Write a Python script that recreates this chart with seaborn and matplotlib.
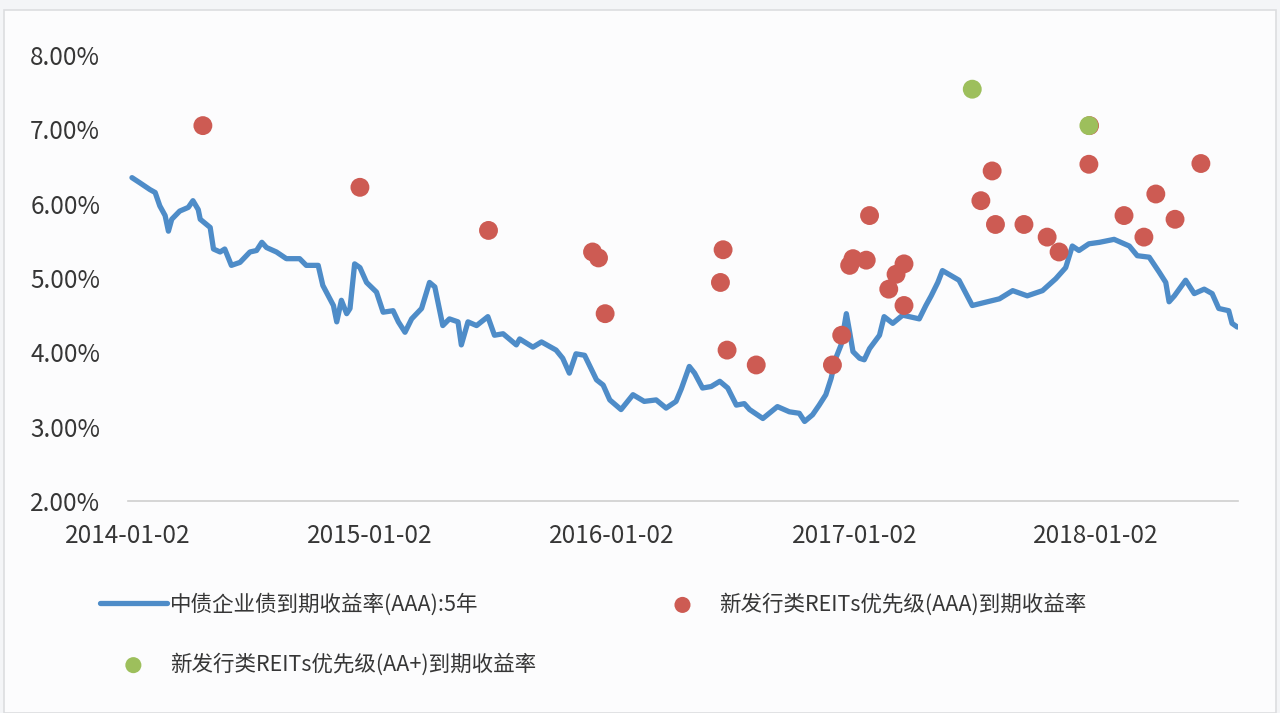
import numpy as np
import pandas as pd
import matplotlib
matplotlib.use("Agg")
import matplotlib.pyplot as plt
import matplotlib.patches as mpatches
import seaborn as sns

# 中债企业债到期收益率(AAA):5年 (读图估计的折点)
bond_dates = [
    "2014-01-08", "2014-01-20", "2014-02-04", "2014-02-12", "2014-02-19", "2014-02-27",
    "2014-03-04", "2014-03-09", "2014-03-21", "2014-04-03", "2014-04-10", "2014-04-18",
    "2014-04-21", "2014-05-06", "2014-05-11", "2014-05-21", "2014-05-28", "2014-06-07",
    "2014-06-20", "2014-07-05", "2014-07-15", "2014-07-23", "2014-07-30", "2014-08-14",
    "2014-08-29", "2014-09-18", "2014-09-28", "2014-10-16", "2014-10-23", "2014-11-08",
    "2014-11-13", "2014-11-20", "2014-11-28", "2014-12-03", "2014-12-10", "2014-12-18",
    "2014-12-28", "2015-01-12", "2015-01-22", "2015-02-06", "2015-02-14", "2015-02-24",
    "2015-03-06", "2015-03-21", "2015-04-02", "2015-04-10", "2015-04-22", "2015-05-02",
    "2015-05-15", "2015-05-20", "2015-05-30", "2015-06-12", "2015-06-29", "2015-07-09",
    "2015-07-22", "2015-08-11", "2015-08-16", "2015-09-05", "2015-09-18", "2015-10-10",
    "2015-10-20", "2015-10-30", "2015-11-09", "2015-11-22", "2015-12-10", "2015-12-20",
    "2015-12-30", "2016-01-16", "2016-02-03", "2016-02-20", "2016-03-09", "2016-03-24",
    "2016-04-08", "2016-04-16", "2016-04-28", "2016-05-06", "2016-05-18", "2016-05-31",
    "2016-06-13", "2016-06-25", "2016-07-08", "2016-07-20", "2016-07-28", "2016-08-17",
    "2016-09-08", "2016-09-26", "2016-10-11", "2016-10-19", "2016-10-31", "2016-11-10",
    "2016-11-20", "2016-11-28", "2016-12-05", "2016-12-13", "2016-12-21", "2016-12-26",
    "2016-12-31", "2017-01-10", "2017-01-17", "2017-01-25", "2017-02-09", "2017-02-16",
    "2017-03-01", "2017-03-16", "2017-03-26", "2017-04-10", "2017-04-20", "2017-04-28",
    "2017-05-08", "2017-05-15", "2017-06-09", "2017-06-29", "2017-07-22", "2017-08-09",
    "2017-08-29", "2017-09-20", "2017-10-13", "2017-11-02", "2017-11-17", "2017-11-27",
    "2017-12-07", "2017-12-22", "2018-01-07", "2018-01-29", "2018-02-21", "2018-03-05",
    "2018-03-23", "2018-04-07", "2018-04-17", "2018-04-22", "2018-04-30", "2018-05-17",
    "2018-05-30", "2018-06-14", "2018-06-26", "2018-07-06", "2018-07-21", "2018-07-26",
    "2018-08-03",
]
bond_yield = [
    6.35, 6.28, 6.19, 6.15, 5.97, 5.84,
    5.63, 5.79, 5.90, 5.95, 6.04, 5.92,
    5.79, 5.68, 5.39, 5.35, 5.39, 5.17,
    5.21, 5.35, 5.37, 5.48, 5.41, 5.35,
    5.26, 5.26, 5.17, 5.17, 4.90, 4.63,
    4.41, 4.70, 4.52, 4.59, 5.19, 5.14,
    4.94, 4.81, 4.54, 4.56, 4.41, 4.27,
    4.45, 4.59, 4.94, 4.88, 4.36, 4.45,
    4.41, 4.10, 4.41, 4.36, 4.48, 4.23,
    4.25, 4.10, 4.18, 4.07, 4.14, 4.03,
    3.92, 3.72, 3.98, 3.96, 3.63, 3.56,
    3.36, 3.23, 3.43, 3.34, 3.36, 3.25,
    3.34, 3.51, 3.81, 3.72, 3.52, 3.54,
    3.61, 3.52, 3.29, 3.31, 3.23, 3.11,
    3.27, 3.20, 3.18, 3.07, 3.16, 3.29,
    3.43, 3.65, 3.92, 4.10, 4.52, 4.27,
    4.01, 3.92, 3.90, 4.05, 4.23, 4.48,
    4.39, 4.50, 4.48, 4.45, 4.63, 4.76,
    4.94, 5.10, 4.97, 4.63, 4.68, 4.72,
    4.83, 4.76, 4.83, 4.99, 5.14, 5.43,
    5.37, 5.46, 5.48, 5.52, 5.43, 5.30,
    5.28, 5.08, 4.94, 4.68, 4.76, 4.97,
    4.79, 4.85, 4.79, 4.59, 4.56, 4.39,
    4.34,
]

# 新发行类REITs优先级(AAA)到期收益率
aaa_dates = [
    "2014-04-25", "2014-12-18", "2015-06-30", "2015-12-04", "2015-12-13", "2015-12-23",
    "2016-06-18", "2016-06-14", "2016-06-24", "2016-08-07", "2016-11-30", "2016-12-14",
    "2016-12-26", "2016-12-31", "2017-01-20", "2017-01-25", "2017-02-23", "2017-03-06",
    "2017-03-18", "2017-03-18", "2017-07-12", "2017-07-29", "2017-08-03", "2017-09-15",
    "2017-10-20", "2017-11-07", "2017-12-22", "2017-12-23", "2018-02-13", "2018-03-15",
    "2018-04-02", "2018-05-01", "2018-06-09",
]
aaa_yield = [
    7.05, 6.22, 5.64, 5.35, 5.27, 4.52,
    5.38, 4.94, 4.03, 3.83, 3.83, 4.23,
    5.17, 5.26, 5.24, 5.84, 4.85, 5.05,
    5.19, 4.63, 6.04, 6.44, 5.72, 5.72,
    5.55, 5.35, 6.53, 7.05, 5.84, 5.55,
    6.13, 5.79, 6.54,
]

# 新发行类REITs优先级(AA+)到期收益率
aa_dates = ["2017-06-29", "2017-12-22"]
aa_yield = [7.54, 7.05]

tick_dates = ["2014-01-02", "2015-01-02", "2016-01-02", "2017-01-02", "2018-01-02"]
y_ticks = [2, 3, 4, 5, 6, 7, 8]

label_bond = "中债企业债到期收益率(AAA):5年"
label_aaa = "新发行类REITs优先级(AAA)到期收益率"
label_aa = "新发行类REITs优先级(AA+)到期收益率"

blue = "#4e8cc8"
red = "#cd5b53"
green = "#9dbf5c"
text_col = "#363636"

sns.set_style("white")
plt.rcParams["font.family"] = ["Noto Sans CJK SC", "DejaVu Sans"]

df_bond = pd.DataFrame({"date": pd.to_datetime(bond_dates), "y": bond_yield})
df_aaa = pd.DataFrame({"date": pd.to_datetime(aaa_dates), "y": aaa_yield})
df_aa = pd.DataFrame({"date": pd.to_datetime(aa_dates), "y": aa_yield})

fig = plt.figure(figsize=(12.8, 7.13), dpi=100)
fig.patch.set_facecolor("#f4f5f7")
# 外框
fig.patches.append(mpatches.Rectangle((4 / 1280, 0), 1 - 8 / 1280, 1 - 10 / 713,
                                      transform=fig.transFigure, facecolor="#fcfcfd",
                                      edgecolor="#dcdde0", linewidth=1.2, zorder=-1))

ax = fig.add_axes([128 / 1280, 1 - 501 / 713, (1238 - 128) / 1280, (501 - 55) / 713])
ax.set_facecolor("none")

sns.lineplot(data=df_bond, x="date", y="y", ax=ax, color=blue, linewidth=3.8,
             label=label_bond, zorder=2)
sns.scatterplot(data=df_aaa, x="date", y="y", ax=ax, color=red, s=185,
                edgecolor="none", label=label_aaa, zorder=3)
sns.scatterplot(data=df_aa, x="date", y="y", ax=ax, color=green, s=185,
                edgecolor="none", label=label_aa, zorder=4)

ax.set_xlim(pd.Timestamp("2014-01-02"), pd.Timestamp("2018-08-04"))
ax.set_ylim(2, 8)
ax.set_xticks(pd.to_datetime(tick_dates))
ax.set_xticklabels(tick_dates)
ax.set_yticks(y_ticks)
ax.set_yticklabels([f"{v:.2f}%" for v in y_ticks])
ax.set_xlabel("")
ax.set_ylabel("")

for side in ["top", "right", "left"]:
    ax.spines[side].set_visible(False)
ax.spines["bottom"].set_color("#cfcfcf")
ax.spines["bottom"].set_linewidth(1.2)
ax.tick_params(axis="x", length=6, width=1.2, color="#cfcfcf", pad=10,
               labelsize=17.5, labelcolor=text_col)
ax.tick_params(axis="y", length=0, pad=20, labelsize=17.5, labelcolor=text_col)

handles, labels = ax.get_legend_handles_labels()
order = [labels.index(label_bond), labels.index(label_aa), labels.index(label_aaa)]
ax.legend([handles[i] for i in order], [labels[i] for i in order],
          ncol=2, loc="upper left", bbox_to_anchor=(100 / 1280, 1 - 593 / 713),
          bbox_transform=fig.transFigure, frameon=False, fontsize=15.5,
          handlelength=3.1, handletextpad=0.15, columnspacing=5.25,
          labelspacing=1.75, borderpad=0, borderaxespad=0, markerscale=0.85,
          labelcolor=text_col)

fig.savefig("out.png", dpi=100, facecolor=fig.get_facecolor())
